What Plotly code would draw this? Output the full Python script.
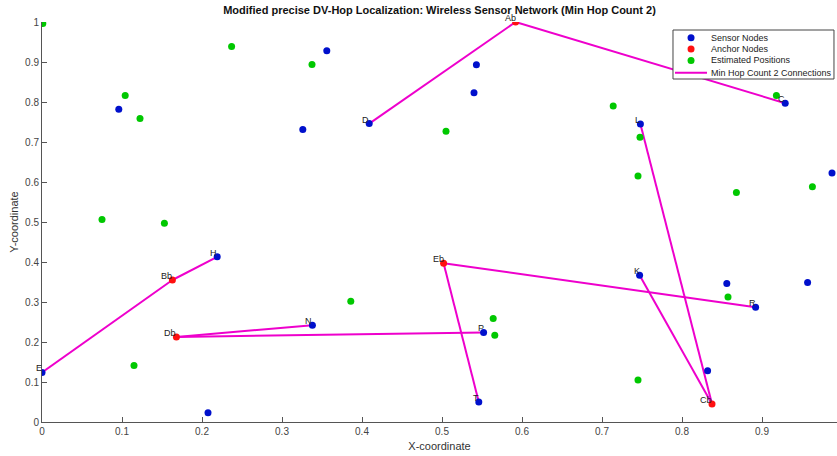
import plotly.graph_objects as go

# Sensor nodes (blue)
sensor_x = [0.096, 0.326, 0.356, 0.409, 0.543, 0.540, 0.748, 0.929, 0.9875, 0.219,
            0.747, 0.856, 0.957, 0.892, 0.338, 0.000, 0.2075, 0.552, 0.546, 0.832]
sensor_y = [0.782, 0.731, 0.928, 0.746, 0.893, 0.823, 0.745, 0.797, 0.6225, 0.413,
            0.367, 0.346, 0.349, 0.287, 0.242, 0.124, 0.023, 0.224, 0.050, 0.128]
sensor_lbl = ["", "", "", "D", "", "", "L", "C", "", "H",
              "K", "", "", "R", "N", "E", "", "P", "T", ""]

# Anchor nodes (red)
anchor_x = [0.592, 0.163, 0.168, 0.502, 0.8375]
anchor_y = [1.000, 0.355, 0.2125, 0.397, 0.045]
anchor_lbl = ["Ab", "Bb", "Db", "Eb", "Cb"]

# Estimated positions (green)
est_x = [0.001, 0.104, 0.1225, 0.237, 0.3375, 0.505, 0.714, 0.7475, 0.918, 0.075,
         0.153, 0.386, 0.745, 0.868, 0.963, 0.8575, 0.115, 0.564, 0.566, 0.745]
est_y = [0.996, 0.816, 0.759, 0.939, 0.894, 0.727, 0.790, 0.712, 0.816, 0.506,
         0.497, 0.302, 0.615, 0.574, 0.588, 0.3125, 0.141, 0.259, 0.217, 0.105]

# Min hop count 2 connections
connections = [("D", "Ab"), ("Ab", "C"), ("E", "Bb"), ("Bb", "H"), ("Db", "N"),
               ("Db", "P"), ("Eb", "T"), ("Eb", "R"), ("Cb", "L"), ("Cb", "K")]

legend_names = ["Sensor Nodes", "Anchor Nodes", "Estimated Positions", "Min Hop Count 2 Connections"]

pos = {}
for x, y, l in zip(sensor_x, sensor_y, sensor_lbl):
    if l:
        pos[l] = (x, y)
for x, y, l in zip(anchor_x, anchor_y, anchor_lbl):
    pos[l] = (x, y)

line_x, line_y = [], []
for a, b in connections:
    line_x += [pos[a][0], pos[b][0], None]
    line_y += [pos[a][1], pos[b][1], None]

BLUE = "#0010cc"
RED = "#ff1010"
GREEN = "#00c800"
MAG = "#ee00cc"

fig = go.Figure()
fig.add_trace(go.Scatter(x=line_x, y=line_y, mode="lines", name=legend_names[3],
                         line=dict(color=MAG, width=2)))
fig.add_trace(go.Scatter(x=sensor_x, y=sensor_y, mode="markers", name=legend_names[0],
                         marker=dict(color=BLUE, size=7)))
fig.add_trace(go.Scatter(x=anchor_x, y=anchor_y, mode="markers", name=legend_names[1],
                         marker=dict(color=RED, size=7)))
fig.add_trace(go.Scatter(x=est_x, y=est_y, mode="markers", name=legend_names[2],
                         marker=dict(color=GREEN, size=7)))

for l, (x, y) in pos.items():
    fig.add_annotation(x=x, y=y, text=l, showarrow=False, xanchor="right", yanchor="bottom",
                       xshift=2, yshift=-3, font=dict(size=9, color="#222222"))

# Compact legend box (drawn in paper coordinates)
lx0, lx1, ly0, ly1 = 0.7937, 0.9962, 0.8575, 0.98
row_y = [0.9608, 0.9325, 0.9038, 0.8733]
mx = 0.8164
tx = 0.839
fig.add_shape(type="rect", xref="paper", yref="paper", x0=lx0, x1=lx1, y0=ly0, y1=ly1,
              line=dict(color="#444444", width=1), fillcolor="white", layer="above")
for ry, col in zip(row_y[:3], [BLUE, RED, GREEN]):
    fig.add_shape(type="circle", xref="paper", yref="paper", xsizemode="pixel", ysizemode="pixel",
                  xanchor=mx, yanchor=ry, x0=-3.5, x1=3.5, y0=-3.5, y1=3.5,
                  fillcolor=col, line=dict(width=0), layer="above")
fig.add_shape(type="line", xref="paper", yref="paper", x0=0.7962, x1=0.8365,
              y0=row_y[3], y1=row_y[3], line=dict(color=MAG, width=2), layer="above")
for ry, name in zip(row_y, legend_names):
    fig.add_annotation(xref="paper", yref="paper", x=tx, y=ry, text=name, showarrow=False,
                       xanchor="left", yanchor="middle", font=dict(size=9, color="#222222"))

fig.update_layout(
    width=837, height=456,
    margin=dict(l=42, r=0, t=22, b=34),
    paper_bgcolor="white", plot_bgcolor="white",
    showlegend=False,
    font=dict(family="Liberation Sans, Arial, sans-serif", size=10, color="#444444"),
    title=dict(text="<b>Modified precise DV-Hop Localization: Wireless Sensor Network (Min Hop Count 2)</b>",
               x=0.5, xref="paper", y=0.978, yanchor="middle",
               font=dict(size=11, color="#111111")),
    xaxis=dict(range=[0, 0.99375], tickvals=[0, 0.1, 0.2, 0.3, 0.4, 0.5, 0.6, 0.7, 0.8, 0.9],
               ticktext=["0", "0.1", "0.2", "0.3", "0.4", "0.5", "0.6", "0.7", "0.8", "0.9"],
               showgrid=False, zeroline=False, showline=True, linecolor="#555555", linewidth=1,
               ticks="inside", ticklen=5, tickcolor="#555555",
               title=dict(text="X-coordinate", font=dict(size=11, color="#333333"), standoff=6)),
    yaxis=dict(range=[0, 1], tickvals=[0, 0.1, 0.2, 0.3, 0.4, 0.5, 0.6, 0.7, 0.8, 0.9, 1],
               ticktext=["0", "0.1", "0.2", "0.3", "0.4", "0.5", "0.6", "0.7", "0.8", "0.9", "1"],
               showgrid=False, zeroline=False, showline=True, linecolor="#555555", linewidth=1,
               ticks="inside", ticklen=5, tickcolor="#555555",
               title=dict(text="Y-coordinate", font=dict(size=11, color="#333333"), standoff=4)),
)

fig.write_html("out.html")
